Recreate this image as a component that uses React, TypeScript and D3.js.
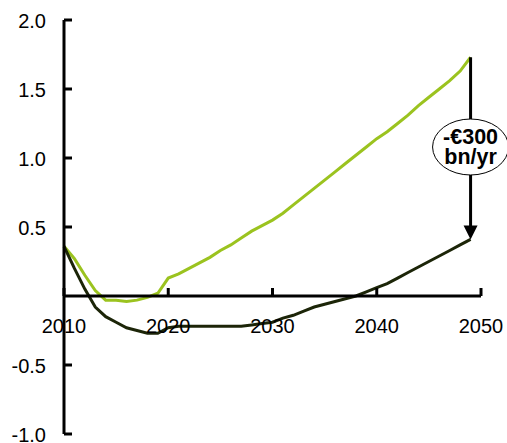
import * as d3 from "d3";

const years = d3.range(2010, 2050);

const greenValues = [
  0.36, 0.27, 0.15, 0.04, -0.03, -0.03, -0.04, -0.03, -0.01, 0.02,
  0.13, 0.16, 0.2, 0.24, 0.28, 0.33, 0.37, 0.42, 0.47, 0.51,
  0.55, 0.6, 0.66, 0.72, 0.78, 0.84, 0.9, 0.96, 1.02, 1.08,
  1.14, 1.19, 1.25, 1.31, 1.38, 1.44, 1.5, 1.56, 1.63, 1.73,
];

const darkValues = [
  0.36, 0.2, 0.05, -0.08, -0.15, -0.19, -0.23, -0.25, -0.27, -0.27,
  -0.23, -0.22, -0.22, -0.22, -0.22, -0.22, -0.22, -0.22, -0.21, -0.2,
  -0.19, -0.16, -0.14, -0.11, -0.08, -0.06, -0.04, -0.02, 0.0, 0.03,
  0.06, 0.09, 0.13, 0.17, 0.21, 0.25, 0.29, 0.33, 0.37, 0.41,
];

const yTicks = [-1.0, -0.5, 0.5, 1.0, 1.5, 2.0];
const xTicks = [2010, 2020, 2030, 2040, 2050];
const annotation = ["-€300", "bn/yr"];

const GREEN = "#9bc31f";
const DARK = "#1c2508";
const FONT = "Liberation Sans, Arial, sans-serif";

export default function App() {
  const width = 507;
  const height = 443;
  const x = d3.scaleLinear().domain([2010, 2050]).range([64, 481]);
  const y = d3.scaleLinear().domain([-1, 2]).range([434, 20]);

  const line = d3
    .line<number>()
    .x((_, i) => x(years[i]))
    .y((v) => y(v));

  const last = years.length - 1;
  const ax = x(years[last]);
  const aTop = y(greenValues[last]);
  const aBot = y(darkValues[last]);
  const ecy = 147;

  return (
    <svg
      width={width}
      height={height}
      style={{ position: "absolute", left: 0, top: 0 }}
      fontFamily={FONT}
    >
      <path d={line(greenValues) ?? ""} fill="none" stroke={GREEN} strokeWidth={3} />
      <path d={line(darkValues) ?? ""} fill="none" stroke={DARK} strokeWidth={3} />

      {/* y axis */}
      <line x1={x(2010)} x2={x(2010)} y1={y(-1)} y2={y(2)} stroke="#000" strokeWidth={3} />
      {yTicks.map((t) => (
        <g key={t}>
          <line x1={x(2010)} x2={x(2010) + 8} y1={y(t)} y2={y(t)} stroke="#000" strokeWidth={3} />
          <text x={46} y={y(t) + 7.5} textAnchor="end" fontSize={20}>
            {t.toFixed(1)}
          </text>
        </g>
      ))}

      {/* x axis at zero */}
      <line x1={x(2010)} x2={x(2050)} y1={y(0)} y2={y(0)} stroke="#000" strokeWidth={3} />
      {xTicks.map((t) => (
        <g key={t}>
          <line x1={x(t)} x2={x(t)} y1={y(0)} y2={y(0) - 8} stroke="#000" strokeWidth={3} />
          <text x={x(t)} y={y(0) + 37} textAnchor="middle" fontSize={20}>
            {t}
          </text>
        </g>
      ))}

      {/* annotation arrow */}
      <line x1={ax} x2={ax} y1={aTop} y2={aBot - 12} stroke="#000" strokeWidth={3} />
      <path d={`M${ax - 7},${aBot - 14} L${ax + 7},${aBot - 14} L${ax},${aBot} Z`} fill="#000" />
      <ellipse cx={ax} cy={ecy} rx={38} ry={28} fill="#fff" stroke="#000" strokeWidth={1} />
      <text x={ax} y={ecy - 3} textAnchor="middle" fontSize={21.5} fontWeight="bold">
        {annotation[0]}
      </text>
      <text x={ax} y={ecy + 17} textAnchor="middle" fontSize={21.5} fontWeight="bold">
        {annotation[1]}
      </text>
    </svg>
  );
}
